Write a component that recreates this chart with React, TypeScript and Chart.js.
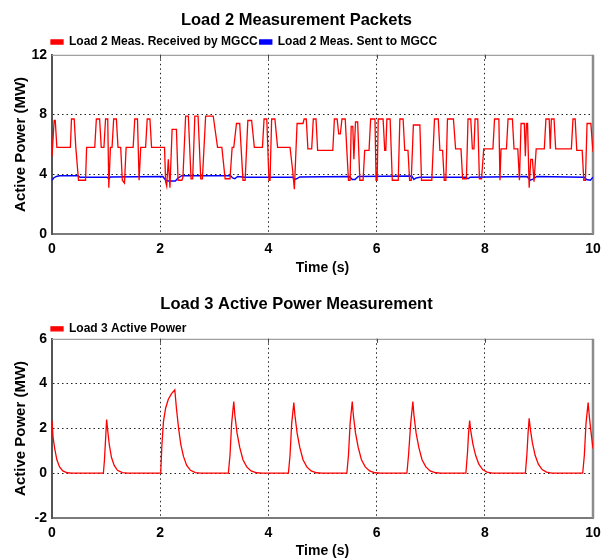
import React, { useEffect, useRef } from 'react';
import { Chart, registerables } from 'chart.js';

Chart.register(...registerables);

const FONT = "'Liberation Sans', Arial, Helvetica, sans-serif";

const load2Title = 'Load 2 Measurement Packets';
const load3Title = 'Load 3 Active Power Measurement';
const xAxisTitle = 'Time (s)';
const yAxisTitle = 'Active Power (MW)';
const receivedLabel = 'Load 2 Meas. Received by MGCC';
const sentLabel = 'Load 2 Meas. Sent to MGCC';
const load3Label = 'Load 3 Active Power';

const timeTicks = [0, 2, 4, 6, 8, 10];
const load2Ticks = [0, 4, 8, 12];
const load3Ticks = [-2, 0, 2, 4, 6];

const receivedTime = [
  0.0, 0.04, 0.06, 0.09, 0.34, 0.36, 0.41, 0.44, 0.49, 0.62, 0.64, 0.79, 0.82, 0.88, 0.91, 0.96,
  0.99, 1.03, 1.05, 1.08, 1.11, 1.14, 1.19, 1.22, 1.27, 1.3, 1.34, 1.37, 1.5, 1.53, 1.58, 1.61,
  1.64, 1.73, 1.76, 1.81, 1.84, 2.08, 2.1, 2.12, 2.15, 2.18, 2.22, 2.3, 2.33, 2.4, 2.42, 2.47,
  2.52, 2.57, 2.6, 2.64, 2.7, 2.75, 2.78, 2.84, 2.98, 3.06, 3.14, 3.2, 3.29, 3.33, 3.36, 3.41,
  3.47, 3.53, 3.57, 3.62, 3.69, 3.74, 3.89, 3.92, 3.97, 4.01, 4.03, 4.06, 4.12, 4.17, 4.4, 4.45,
  4.48, 4.53, 4.64, 4.66, 4.7, 4.73, 4.8, 4.83, 4.88, 4.91, 5.19, 5.22, 5.27, 5.3, 5.33, 5.36,
  5.42, 5.45, 5.48, 5.51, 5.53, 5.56, 5.58, 5.61, 5.65, 5.69, 5.75, 5.78, 5.86, 5.89, 5.97, 5.99,
  6.01, 6.03, 6.12, 6.15, 6.17, 6.19, 6.25, 6.29, 6.4, 6.43, 6.49, 6.52, 6.58, 6.61, 6.64, 6.68,
  6.8, 6.83, 7.02, 7.07, 7.14, 7.17, 7.22, 7.25, 7.28, 7.31, 7.42, 7.46, 7.56, 7.59, 7.66, 7.69,
  7.74, 7.77, 7.8, 7.82, 7.87, 7.9, 7.94, 7.98, 8.15, 8.18, 8.26, 8.28, 8.3, 8.4, 8.43, 8.51,
  8.54, 8.61, 8.64, 8.67, 8.73, 8.75, 8.77, 8.79, 8.82, 8.85, 8.88, 8.91, 8.95, 9.1, 9.13, 9.19,
  9.21, 9.23, 9.28, 9.31, 9.6, 9.63, 9.67, 9.7, 9.8, 9.83, 9.86, 9.89, 9.96, 10.0,
];
const receivedPower = [
  5.2, 7.6, 7.6, 5.8, 5.8, 7.7, 7.7, 5.8, 3.6, 3.6, 5.8, 5.8, 7.7, 7.7, 5.8, 5.8,
  7.7, 7.7, 3.1, 5.8, 5.8, 7.7, 7.7, 5.8, 5.8, 3.6, 3.4, 5.8, 5.8, 7.7, 7.7, 3.6,
  5.8, 5.8, 7.7, 7.7, 5.8, 5.8, 3.5, 3.2, 5.0, 3.1, 7.0, 7.0, 3.6, 3.6, 3.8, 7.9,
  7.9, 3.7, 3.7, 7.9, 7.9, 3.7, 3.7, 7.9, 7.9, 5.8, 5.8, 3.7, 3.7, 5.8, 5.8, 7.4,
  7.4, 3.6, 3.6, 7.6, 7.6, 5.8, 5.8, 7.7, 7.7, 3.6, 3.6, 7.7, 7.7, 5.8, 5.8, 4.2,
  3.0, 7.4, 7.4, 7.7, 7.7, 5.7, 5.7, 7.7, 7.7, 5.6, 5.6, 7.7, 7.7, 6.7, 6.7, 7.7,
  7.7, 5.6, 3.6, 3.6, 7.2, 7.2, 5.0, 7.5, 7.5, 3.6, 3.6, 5.6, 5.6, 7.7, 7.7, 3.6,
  3.6, 7.7, 7.7, 5.6, 5.6, 7.7, 7.7, 3.6, 3.6, 7.7, 7.7, 5.6, 5.6, 3.6, 3.6, 7.3,
  7.3, 3.6, 3.6, 7.7, 7.7, 5.6, 5.6, 3.6, 3.6, 7.7, 7.7, 5.7, 5.7, 3.7, 3.7, 7.7,
  7.7, 5.7, 5.7, 7.7, 7.7, 3.7, 3.7, 5.7, 5.7, 7.7, 7.7, 3.6, 5.7, 5.7, 7.7, 7.7,
  5.7, 5.7, 3.6, 7.4, 7.4, 5.2, 7.4, 7.4, 3.1, 5.0, 5.0, 3.5, 5.7, 5.7, 7.7, 7.7,
  5.7, 7.7, 7.7, 5.7, 5.7, 7.7, 7.7, 5.6, 5.6, 3.6, 3.6, 7.4, 7.4, 5.5,
];

const sentTime = [
  0.0, 0.03, 0.08, 0.14, 0.48, 0.52, 1.02, 1.05, 1.08, 2.05, 2.1, 2.15, 2.28, 2.33, 2.4, 3.3,
  3.34, 3.38, 3.43, 3.56, 4.45, 4.48, 4.52, 4.58, 5.5, 5.55, 5.6, 5.66, 6.65, 6.69, 6.73, 6.8,
  7.65, 7.69, 7.73, 8.78, 8.84, 8.88, 8.96, 9.84, 9.88, 9.95, 10.0,
];
const sentPower = [
  3.6, 3.75, 3.85, 3.9, 3.9, 3.8, 3.8, 3.7, 3.82, 3.85, 3.6, 3.55, 3.55, 3.75, 3.9, 3.9,
  3.75, 3.7, 3.85, 3.8, 3.8, 3.65, 3.7, 3.82, 3.85, 3.65, 3.65, 3.85, 3.88, 3.65, 3.75, 3.8,
  3.8, 3.7, 3.8, 3.85, 3.6, 3.65, 3.85, 3.8, 3.65, 3.6, 3.8,
];

const load3Time = [
  0.0, 0.02, 0.05, 0.09, 0.14, 0.2, 0.28, 0.36,
  0.95, 0.97, 0.99, 1.01, 1.03, 1.06, 1.1, 1.15, 1.21, 1.3, 1.4,
  2.01, 2.03, 2.06, 2.1, 2.15, 2.21, 2.27, 2.3, 2.34, 2.38, 2.43, 2.49, 2.56, 2.65, 2.75,
  3.26, 3.29, 3.32, 3.36, 3.38, 3.42, 3.47, 3.53, 3.6, 3.68, 3.78, 3.88,
  4.37, 4.4, 4.43, 4.47, 4.49, 4.53, 4.58, 4.64, 4.71, 4.79, 4.89, 4.99,
  5.45, 5.48, 5.51, 5.55, 5.57, 5.61, 5.66, 5.72, 5.79, 5.87, 5.97, 6.07,
  6.56, 6.59, 6.63, 6.67, 6.69, 6.73, 6.78, 6.84, 6.91, 6.99, 7.09, 7.19,
  7.65, 7.68, 7.7, 7.72, 7.74, 7.78, 7.83, 7.89, 7.96, 8.04, 8.14,
  8.75, 8.78, 8.8, 8.82, 8.84, 8.88, 8.93, 8.99, 9.06, 9.14, 9.24,
  9.81, 9.84, 9.87, 9.91, 9.93, 9.96, 10.0,
];
const load3Power = [
  2.35, 1.6, 1.1, 0.6, 0.28, 0.1, 0.02, 0.0,
  0.0, 0.6, 1.5, 2.4, 1.9, 1.25, 0.7, 0.35, 0.13, 0.03, 0.0,
  0.0, 1.2, 2.3, 2.9, 3.3, 3.55, 3.72, 2.9, 2.0, 1.3, 0.75, 0.35, 0.13, 0.03, 0.0,
  0.0, 0.8, 2.2, 3.2, 2.6, 1.8, 1.15, 0.6, 0.28, 0.1, 0.02, 0.0,
  0.0, 0.8, 2.2, 3.15, 2.6, 1.8, 1.15, 0.6, 0.28, 0.1, 0.02, 0.0,
  0.0, 0.8, 2.2, 3.2, 2.6, 1.8, 1.15, 0.6, 0.28, 0.1, 0.02, 0.0,
  0.0, 0.8, 2.2, 3.2, 2.6, 1.8, 1.15, 0.6, 0.28, 0.1, 0.02, 0.0,
  0.0, 0.9, 1.8, 2.35, 1.9, 1.3, 0.8, 0.4, 0.16, 0.05, 0.0,
  0.0, 0.9, 1.8, 2.45, 2.0, 1.35, 0.8, 0.4, 0.16, 0.05, 0.0,
  0.0, 0.8, 2.2, 3.15, 2.6, 1.9, 1.1,
];

const toPoints = (xs: number[], ys: number[]) => xs.map((x, i) => ({ x, y: ys[i] }));

const nudgeLegend = {
  id: 'nudgeLegend',
  afterLayout(chart: any, _args: any, opts: any) {
    const lg = chart.legend;
    if (!lg) return;
    lg.left += opts.dx || 0;
    lg.top += opts.dy || 0;
    lg.bottom += opts.dy || 0;
  },
};

const framePlugin = {
  id: 'frame',
  beforeDatasetsDraw(chart: any) {
    const { ctx, chartArea } = chart;
    const { left, top, right, bottom } = chartArea;
    const xs = chart.scales.x;
    ctx.save();
    ctx.strokeStyle = '#a0a0a0';
    ctx.lineWidth = 1.2;
    ctx.beginPath();
    ctx.moveTo(left, top + 0.5);
    ctx.lineTo(right, top + 0.5);
    ctx.stroke();
    ctx.strokeStyle = '#8c8c8c';
    ctx.lineWidth = 2.5;
    ctx.beginPath();
    ctx.moveTo(right, top);
    ctx.lineTo(right, bottom);
    ctx.stroke();
    ctx.strokeStyle = '#444';
    ctx.lineWidth = 1;
    xs.ticks.forEach((t: any) => {
      if (t.value > xs.min && t.value < xs.max) {
        const x = Math.round(xs.getPixelForValue(t.value)) + 0.5;
        ctx.beginPath();
        ctx.moveTo(x, top);
        ctx.lineTo(x, top + 4);
        ctx.stroke();
      }
    });
    ctx.restore();
  },
};

function makeConfig(opts: {
  title: string;
  titlePadTop: number;
  legendDy: number;
  datasets: any[];
  yTicks: number[];
  xHeight: number;
  xTitlePadBottom: number;
}): any {
  const yMin = opts.yTicks[0];
  const yMax = opts.yTicks[opts.yTicks.length - 1];
  const xMin = timeTicks[0];
  const xMax = timeTicks[timeTicks.length - 1];
  const tickFont = { family: FONT, size: 14, weight: 'bold' };
  return {
    type: 'line',
    data: { datasets: opts.datasets },
    plugins: [nudgeLegend, framePlugin],
    options: {
      responsive: false,
      maintainAspectRatio: false,
      animation: false,
      events: [],
      layout: { padding: { left: 0, right: 17, top: 0, bottom: 0 } },
      elements: { point: { radius: 0 }, line: { tension: 0 } },
      plugins: {
        tooltip: { enabled: false },
        title: {
          display: true,
          text: opts.title,
          color: '#000',
          font: { family: FONT, size: 16.5, weight: 'bold' },
          padding: { top: opts.titlePadTop, bottom: 0 },
        },
        legend: {
          display: true,
          position: 'top',
          align: 'start',
          labels: {
            color: '#000',
            font: { family: FONT, size: 12, weight: 'bold' },
            boxWidth: 12,
            boxHeight: 4,
            padding: 2,
          },
        },
        nudgeLegend: { dx: 49, dy: opts.legendDy },
      },
      scales: {
        x: {
          type: 'linear',
          min: xMin,
          max: xMax,
          afterBuildTicks: (s: any) => {
            s.ticks = timeTicks.map((v) => ({ value: v }));
          },
          afterFit: (s: any) => {
            s.height = opts.xHeight;
          },
          ticks: { color: '#000', font: tickFont, padding: 7, maxRotation: 0 },
          grid: {
            drawTicks: false,
            lineWidth: 1,
            color: (c: any) =>
              c.tick && (c.tick.value === xMin || c.tick.value === xMax) ? 'rgba(0,0,0,0)' : '#222',
          },
          border: { display: true, color: '#7a7a7a', width: 2, dash: [1.5, 3] },
          title: {
            display: true,
            text: xAxisTitle,
            color: '#000',
            font: { family: FONT, size: 14, weight: 'bold' },
            padding: { top: 0, bottom: opts.xTitlePadBottom },
          },
        },
        y: {
          type: 'linear',
          min: yMin,
          max: yMax,
          afterBuildTicks: (s: any) => {
            s.ticks = opts.yTicks.map((v) => ({ value: v }));
          },
          afterFit: (s: any) => {
            s.width = 52;
          },
          ticks: { color: '#000', font: tickFont, padding: 5 },
          grid: {
            drawTicks: false,
            lineWidth: 1,
            color: (c: any) =>
              c.tick && (c.tick.value === yMin || c.tick.value === yMax) ? 'rgba(0,0,0,0)' : '#222',
          },
          border: { display: true, color: '#555', width: 2, dash: [1.5, 3] },
          title: {
            display: true,
            text: yAxisTitle,
            color: '#000',
            font: { family: FONT, size: 15, weight: 'bold' },
            padding: { top: 11.5, bottom: 0 },
          },
        },
      },
    },
  };
}

export default function App() {
  const topRef = useRef<HTMLCanvasElement | null>(null);
  const botRef = useRef<HTMLCanvasElement | null>(null);

  useEffect(() => {
    if (!topRef.current || !botRef.current) return;
    const top = new Chart(
      topRef.current,
      makeConfig({
        title: load2Title,
        titlePadTop: 11,
        legendDy: 3.2,
        yTicks: load2Ticks,
        xHeight: 46,
        xTitlePadBottom: 3,
        datasets: [
          {
            label: receivedLabel,
            data: toPoints(receivedTime, receivedPower),
            borderColor: '#ff0000',
            backgroundColor: '#ff0000',
            borderWidth: 1.3,
            pointRadius: 0,
            fill: false,
          },
          {
            label: sentLabel,
            data: toPoints(sentTime, sentPower),
            borderColor: '#0000ff',
            backgroundColor: '#0000ff',
            borderWidth: 1.4,
            pointRadius: 0,
            fill: false,
          },
        ],
      })
    );
    const bot = new Chart(
      botRef.current,
      makeConfig({
        title: load3Title,
        titlePadTop: 15,
        legendDy: 6,
        yTicks: load3Ticks,
        xHeight: 42,
        xTitlePadBottom: 0,
        datasets: [
          {
            label: load3Label,
            data: toPoints(load3Time, load3Power),
            borderColor: '#ff0000',
            backgroundColor: '#ff0000',
            borderWidth: 1.3,
            pointRadius: 0,
            fill: false,
          },
        ],
      })
    );
    return () => {
      top.destroy();
      bot.destroy();
    };
  }, []);

  return (
    <div style={{ position: 'absolute', left: 0, top: 0, width: 610, height: 560, background: '#fff' }}>
      <canvas ref={topRef} width={610} height={280} style={{ position: 'absolute', left: 0, top: 0 }} />
      <canvas ref={botRef} width={610} height={280} style={{ position: 'absolute', left: 0, top: 280 }} />
    </div>
  );
}
